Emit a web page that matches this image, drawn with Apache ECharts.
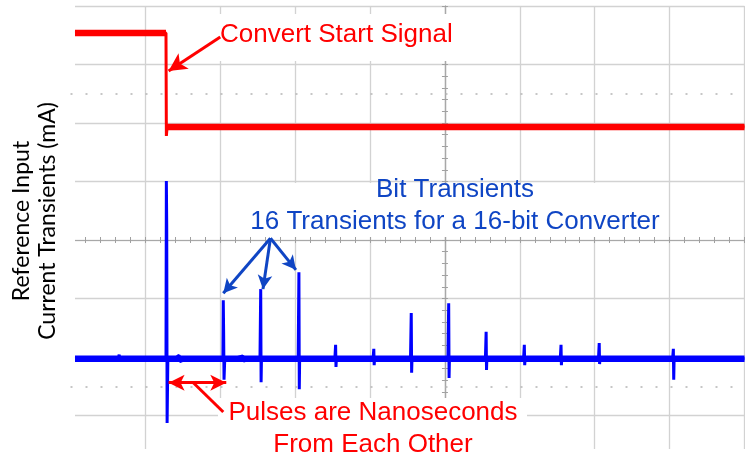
<!DOCTYPE html>
<html>
<head>
<meta charset="utf-8">
<script src="https://cdn.jsdelivr.net/npm/echarts@6/dist/echarts.min.js"></script>
<style>
  html, body { margin: 0; padding: 0; background: #fff; }
  #chart { width: 745px; height: 459px; }
</style>
</head>
<body>
<div id="chart"></div>
<script>
// scope screen, x and y in divisions (0,0 = centre of the graticule)
const startTrace = [
  [-4.94, 3.54], [-4.8, 3.55], [-4.62, 3.53], [-4.45, 3.55], [-4.3, 3.54],
  [-4.12, 3.56], [-3.95, 3.53], [-3.8, 3.55], [-3.725, 3.54],
  [-3.72, 1.78], [-3.71, 1.93],
  [-3.6, 1.95], [-3.45, 1.92], [-3.3, 1.94], [-3.15, 1.93], [-3.0, 1.95],
  [-2.8, 1.92], [-2.6, 1.94], [-2.4, 1.93], [-2.2, 1.95], [-2.0, 1.92],
  [-1.8, 1.94], [-1.6, 1.93], [-1.4, 1.95], [-1.2, 1.92], [-1.0, 1.94],
  [-0.8, 1.93], [-0.6, 1.92], [-0.4, 1.95], [-0.2, 1.93], [0.0, 1.94],
  [0.2, 1.92], [0.4, 1.94], [0.6, 1.93], [0.8, 1.95], [1.0, 1.92],
  [1.2, 1.94], [1.4, 1.93], [1.6, 1.95], [1.8, 1.92], [2.0, 1.94],
  [2.2, 1.93], [2.4, 1.92], [2.6, 1.95], [2.8, 1.93], [3.0, 1.94],
  [3.2, 1.92], [3.4, 1.94], [3.6, 1.93], [3.8, 1.95], [4.0, 1.93]
];
// noisy idle levels of the convert start trace (drawn as a thick band)
const startHighBand = [[-4.94, 3.54], [-3.725, 3.54]];
const startLowBand = [[-3.715, 1.93], [4.0, 1.93]];

const bitTrace = [
  [-4.94, -2.03], [-4.7, -2.02], [-4.5, -2.04], [-4.36, -2.02], [-4.35, -1.96], [-4.34, -2.06],
  [-4.2, -2.03], [-4.0, -2.04], [-3.85, -2.02],
  [-3.725, -2.03], [-3.72, 1.01], [-3.715, 0.22], [-3.71, -3.13], [-3.70, -2.03],
  [-3.6, -2.02], [-3.55, -1.97], [-3.54, -2.08], [-3.45, -2.03], [-3.3, -2.02], [-3.12, -2.04], [-3.0, -2.03],
  [-2.965, -2.03], [-2.96, -1.03], [-2.955, -1.6], [-2.95, -2.39], [-2.94, -2.03],
  [-2.8, -2.02], [-2.7, -1.98], [-2.69, -2.07], [-2.58, -2.03], [-2.47, -2.03],
  [-2.465, -2.03], [-2.46, -0.84], [-2.455, -2.43], [-2.45, -2.03],
  [-2.3, -2.04], [-2.15, -2.02], [-1.96, -2.03],
  [-1.955, -2.03], [-1.95, -0.55], [-1.945, -2.55], [-1.94, -2.03],
  [-1.8, -2.02], [-1.62, -2.04], [-1.47, -2.03],
  [-1.465, -2.03], [-1.46, -1.79], [-1.455, -2.17], [-1.45, -2.03],
  [-1.3, -2.04], [-1.12, -2.02], [-0.96, -2.03],
  [-0.955, -2.03], [-0.95, -1.86], [-0.945, -2.14], [-0.94, -2.03],
  [-0.8, -2.02], [-0.62, -2.04], [-0.46, -2.03],
  [-0.455, -2.03], [-0.45, -1.25], [-0.445, -2.27], [-0.44, -2.03],
  [-0.3, -2.04], [-0.15, -2.02], [0.04, -2.03],
  [0.045, -2.03], [0.05, -1.08], [0.055, -2.36], [0.06, -2.03],
  [0.2, -2.02], [0.38, -2.04], [0.54, -2.03],
  [0.545, -2.03], [0.55, -1.57], [0.555, -2.22], [0.56, -2.03],
  [0.7, -2.04], [0.88, -2.02], [1.05, -2.03],
  [1.055, -2.03], [1.06, -1.79], [1.065, -2.14], [1.07, -2.03],
  [1.2, -2.02], [1.38, -2.04], [1.54, -2.03],
  [1.545, -2.03], [1.55, -1.79], [1.555, -2.14], [1.56, -2.03],
  [1.7, -2.04], [1.88, -2.02], [2.05, -2.03],
  [2.055, -2.03], [2.06, -1.76], [2.065, -2.12], [2.07, -2.03],
  [2.3, -2.03], [2.6, -2.03], [2.85, -2.02], [3.0, -2.04], [3.04, -2.03],
  [3.045, -2.03], [3.05, -1.86], [3.055, -2.39], [3.06, -2.03],
  [3.2, -2.02], [3.4, -2.04], [3.6, -2.03], [3.8, -2.02], [4.0, -2.03]
];
const bitBand = [[-4.94, -2.03], [4.0, -2.03]];

// dotted reference levels of the two channels
const refLevels = [2.5, -2.5];

const RED = '#ff0000';
const BLUE = '#0f45c4';
const FONT = '26px "Liberation Sans", Arial, sans-serif';

const chart = echarts.init(document.getElementById('chart'));

const gridLine = { color: '#d2d2d2', width: 1.3 };
const centreAxis = {
  axisLine: { show: true, onZero: true, lineStyle: { color: '#a8a8a8', width: 1.2 } },
  axisTick: { show: true, length: 3, lineStyle: { color: '#a0a0a0' } },
  minorTick: { show: true, splitNumber: 5, length: 3, lineStyle: { color: '#a0a0a0' } },
  axisLabel: { show: false }
};

function band(name, data, color) {
  return { name: name, type: 'line', data: data, showSymbol: false, silent: true, lineStyle: { color: color, width: 6.5 } };
}
function arrows(name, data, symbol, color, size) {
  return {
    name: name, type: 'line', data: [], silent: true,
    markLine: {
      silent: true, symbol: symbol, symbolSize: size, label: { show: false },
      lineStyle: { color: color, width: 3, type: 'solid' },
      emphasis: { disabled: true },
      data: data
    }
  };
}
// white box behind the annotation texts
function blank(x, y, w, h) {
  return { type: 'rect', z: 1, shape: { x: x, y: y, width: w, height: h }, style: { fill: '#fff' } };
}

chart.setOption({
  animation: false,
  backgroundColor: '#fff',
  grid: { left: 70.5, top: 6, width: 674, height: 468, outerBoundsMode: 'none' },
  xAxis: [
    Object.assign({ type: 'value', min: -5, max: 4, interval: 1, splitLine: { show: true, lineStyle: gridLine } }, centreAxis),
    Object.assign({ type: 'value', min: -5, max: 4, interval: 1, splitLine: { show: false } }, centreAxis)
  ],
  yAxis: [
    Object.assign({ type: 'value', min: -4, max: 4, interval: 1, splitLine: { show: true, lineStyle: gridLine } }, centreAxis),
    Object.assign({ type: 'value', min: -4, max: 4, interval: 1, splitLine: { show: false } }, centreAxis)
  ],
  series: [
    {
      name: 'Reference levels', type: 'line', data: [], silent: true,
      markLine: {
        silent: true, symbol: ['none', 'none'], label: { show: false },
        lineStyle: { color: '#b4b4b4', width: 1.5, type: [2, 13] },
        data: refLevels.map(v => ({ yAxis: v }))
      }
    },
    band('Convert high', startHighBand, RED),
    band('Convert low', startLowBand, RED),
    {
      name: 'Convert Start Signal',
      type: 'line',
      data: startTrace,
      showSymbol: false,
      lineStyle: { color: RED, width: 3 }
    },
    band('Bit idle', bitBand, '#0000ff'),
    {
      name: 'Bit Transients',
      type: 'line',
      data: bitTrace,
      showSymbol: false,
      lineStyle: { color: '#0000ff', width: 3 }
    },
    arrows('Convert arrow', [[{ coord: [-3.0, 3.47] }, { coord: [-3.69, 2.89] }]], ['none', 'arrow'], RED, [14, 18]),
    arrows('Pulse gap', [[{ coord: [-3.69, -2.44] }, { coord: [-2.92, -2.44] }]], ['arrow', 'arrow'], RED, [12, 16]),
    arrows('Pulse leader', [[{ coord: [-3.36, -2.44] }, { coord: [-2.96, -2.94] }]], ['none', 'none'], RED, 1),
    arrows('Bit arrows', [
      [{ coord: [-2.33, 0.03] }, { coord: [-2.96, -0.91] }],
      [{ coord: [-2.33, 0.03] }, { coord: [-2.43, -0.84] }],
      [{ coord: [-2.33, 0.03] }, { coord: [-1.99, -0.51] }]
    ], ['none', 'arrow'], BLUE, [11, 14])
  ],
  graphic: [
    blank(0, 0, 75, 459),
    blank(0, 449, 745, 10),
    blank(215, 14, 243, 47),
    blank(245, 183, 420, 54),
    blank(218, 398, 309, 61),
    {
      type: 'text', z: 2, x: 220, y: 35,
      style: { text: 'Convert Start Signal', fill: RED, font: FONT, align: 'left', verticalAlign: 'middle' }
    },
    {
      type: 'text', z: 2, x: 455, y: 206,
      style: {
        text: 'Bit Transients\n16 Transients for a 16-bit Converter', fill: BLUE, font: FONT,
        align: 'center', verticalAlign: 'middle', lineHeight: 32
      }
    },
    {
      type: 'text', z: 2, x: 373, y: 429,
      style: {
        text: 'Pulses are Nanoseconds\nFrom Each Other', fill: RED, font: FONT,
        align: 'center', verticalAlign: 'middle', lineHeight: 32
      }
    },
    {
      type: 'text', z: 10, x: 35, y: 221, rotation: Math.PI / 2,
      style: {
        text: 'Reference Input\nCurrent Transients (mA)', fill: '#000',
        font: '23px Lato, sans-serif', align: 'center', verticalAlign: 'middle', lineHeight: 26
      }
    }
  ]
});
</script>
</body>
</html>
